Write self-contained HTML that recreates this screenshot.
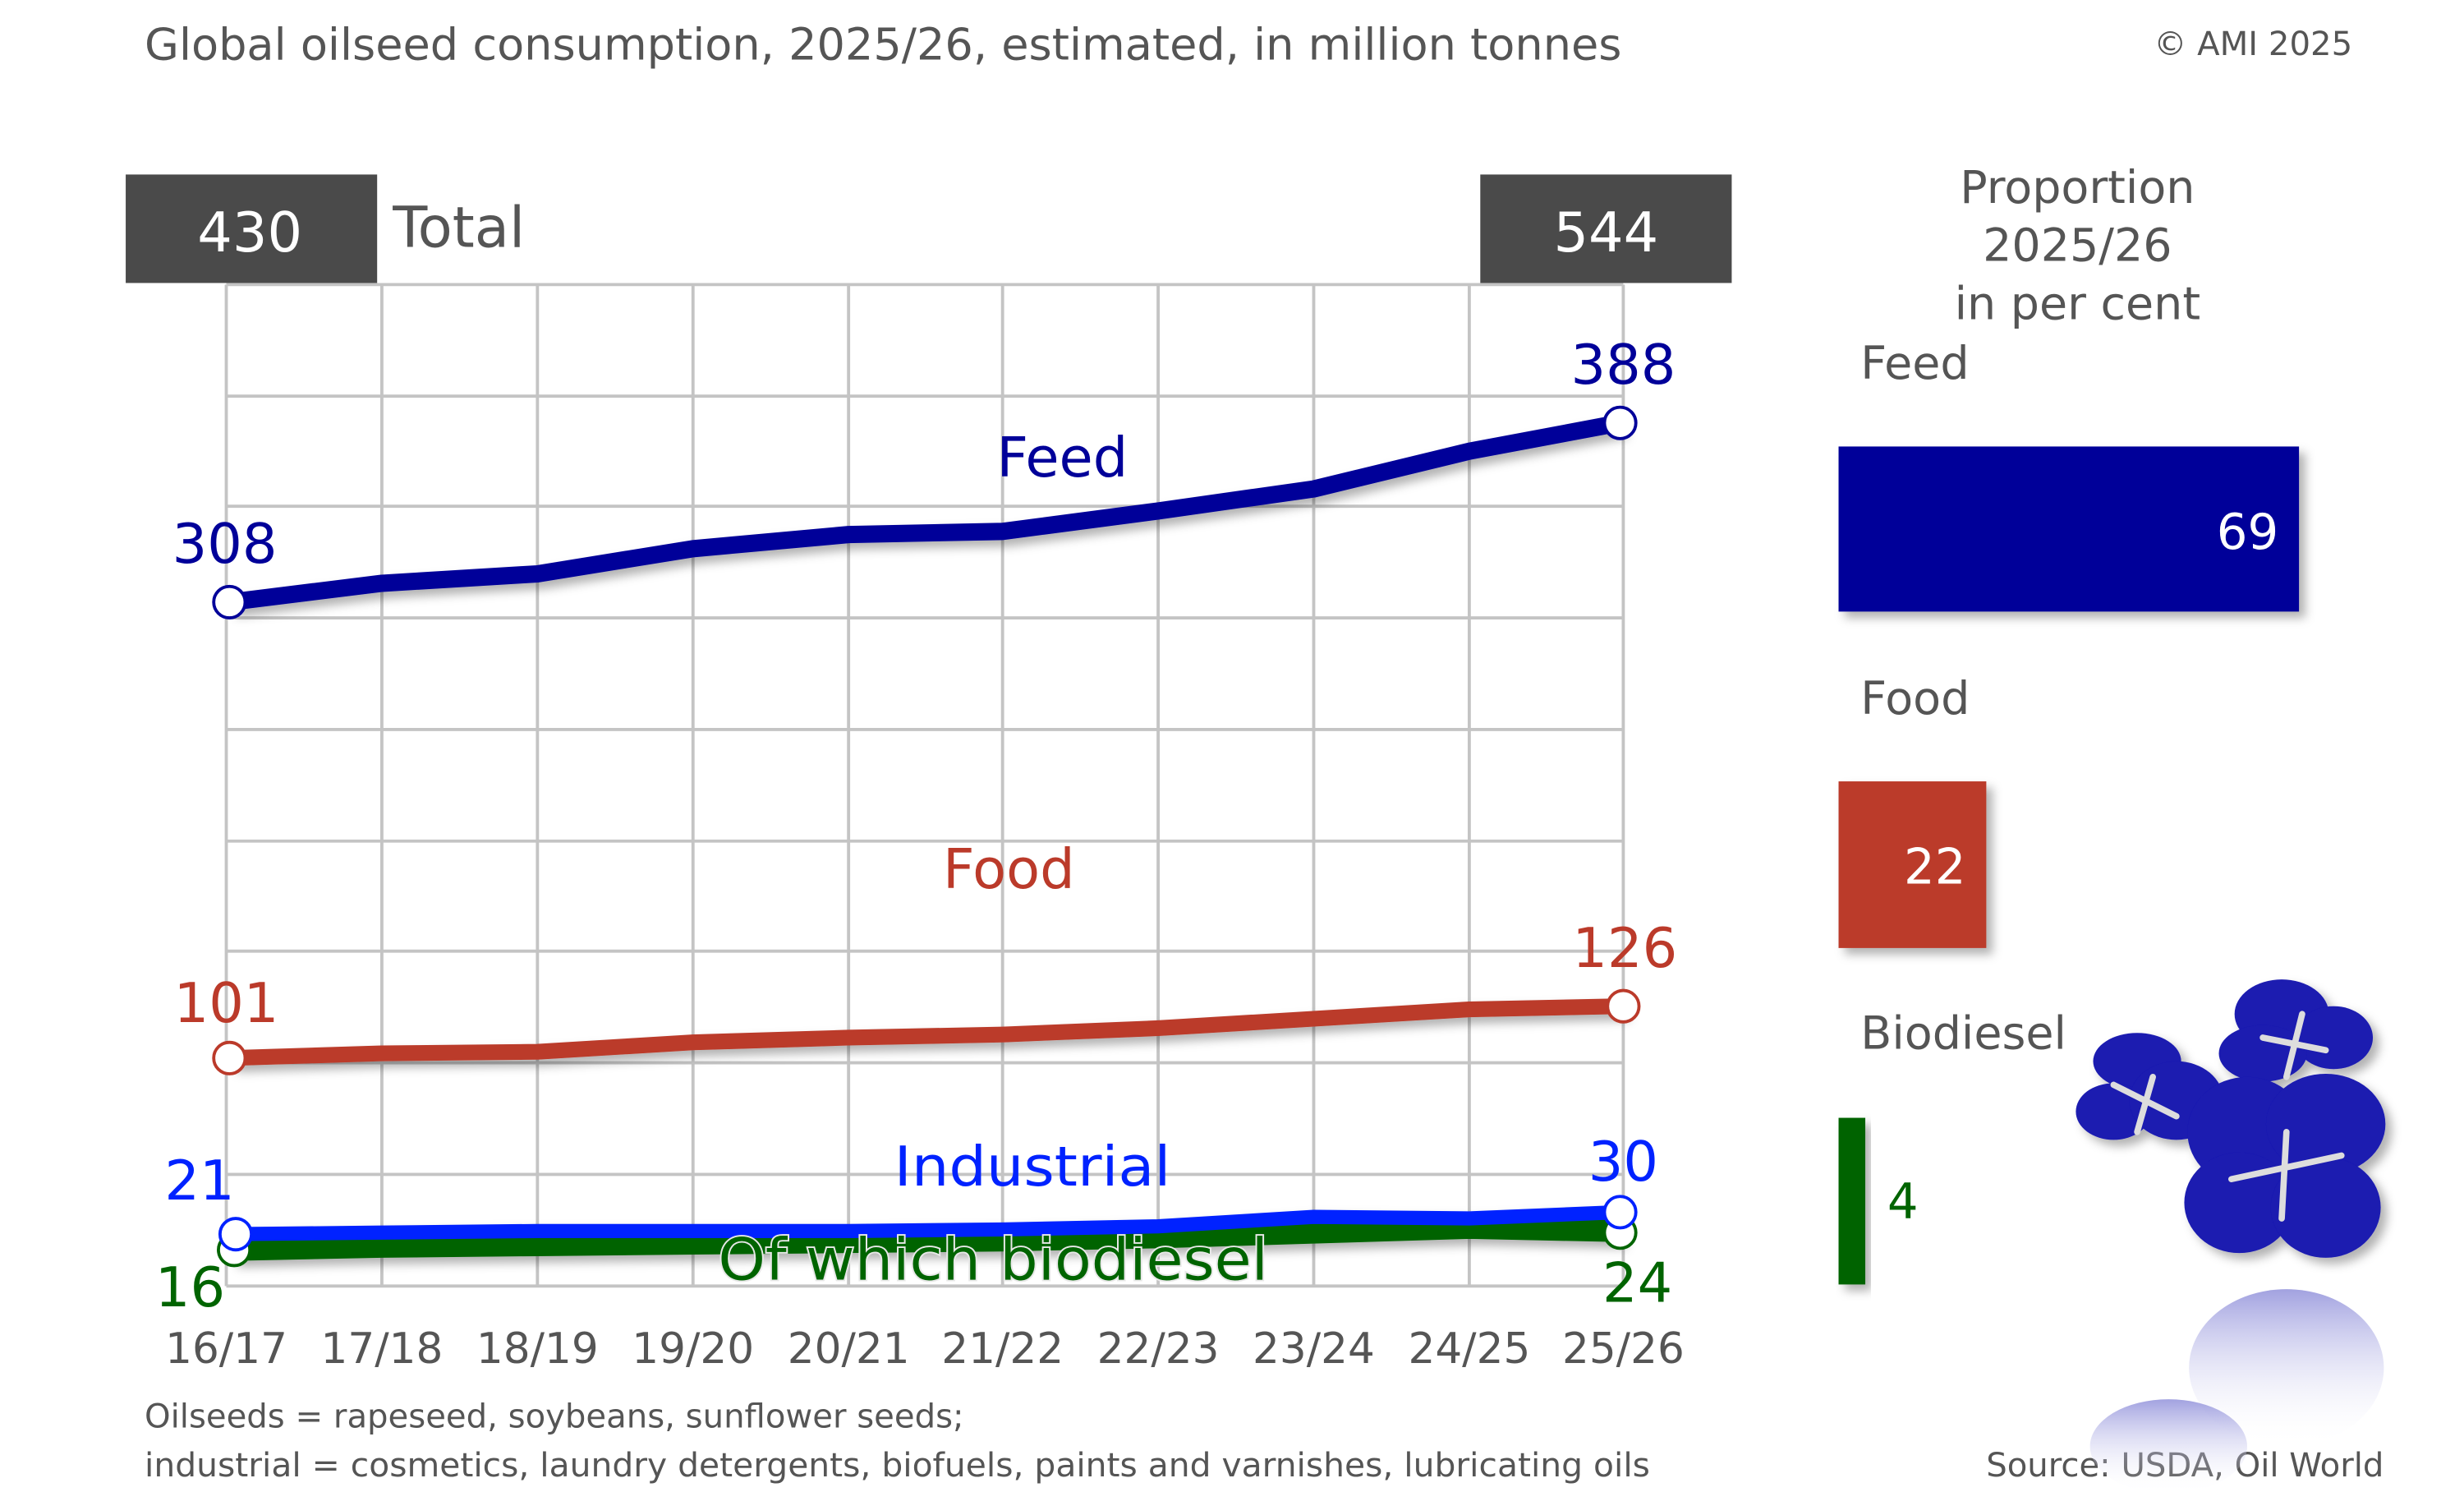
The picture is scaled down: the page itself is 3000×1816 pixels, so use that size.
<!DOCTYPE html>
<html><head><meta charset="utf-8"><style>
html,body{margin:0;padding:0;background:#fff;}
svg{display:block;}
text{font-family:"DejaVu Sans","Liberation Sans",sans-serif;}
</style></head><body>
<svg width="3000" height="1816" viewBox="0 0 1568 949" preserveAspectRatio="none" xmlns="http://www.w3.org/2000/svg">
<defs>
<filter id="sh" x="-10%" y="-10%" width="130%" height="130%"><feDropShadow dx="4" dy="4" stdDeviation="3" flood-color="#000" flood-opacity="0.3"/></filter>
<linearGradient id="fade" x1="0" y1="0" x2="0" y2="1"><stop offset="0" stop-color="#8a8ad8" stop-opacity="0.8"/><stop offset="1" stop-color="#fff" stop-opacity="0"/></linearGradient>
</defs>
<text x="92" y="38" font-size="28" fill="#555" textLength="940" lengthAdjust="spacingAndGlyphs">Global oilseed consumption, 2025/26, estimated, in million tonnes</text>
<text x="1497" y="35" font-size="21" fill="#555" text-anchor="end">© AMI 2025</text>
<g stroke="#c4c4c4" stroke-width="2" fill="none">
<line x1="144" y1="181" x2="144" y2="818"/><line x1="243" y1="181" x2="243" y2="818"/><line x1="342" y1="181" x2="342" y2="818"/><line x1="441" y1="181" x2="441" y2="818"/><line x1="540" y1="181" x2="540" y2="818"/><line x1="638" y1="181" x2="638" y2="818"/><line x1="737" y1="181" x2="737" y2="818"/><line x1="836" y1="181" x2="836" y2="818"/><line x1="935" y1="181" x2="935" y2="818"/><line x1="1033" y1="181" x2="1033" y2="818"/>
<line x1="144" y1="181" x2="1033" y2="181"/><line x1="144" y1="252" x2="1033" y2="252"/><line x1="144" y1="322" x2="1033" y2="322"/><line x1="144" y1="393" x2="1033" y2="393"/><line x1="144" y1="464" x2="1033" y2="464"/><line x1="144" y1="535" x2="1033" y2="535"/><line x1="144" y1="605" x2="1033" y2="605"/><line x1="144" y1="676" x2="1033" y2="676"/><line x1="144" y1="747" x2="1033" y2="747"/><line x1="144" y1="818" x2="1033" y2="818"/>
</g>
<rect x="80" y="111" width="160" height="69" fill="#4a4a4a"/>
<rect x="942" y="111" width="160" height="69" fill="#4a4a4a"/>
<text x="159" y="160" font-size="35" fill="#fff" text-anchor="middle">430</text>
<text x="1022" y="160" font-size="35" fill="#fff" text-anchor="middle">544</text>
<text x="250" y="157" font-size="36" fill="#555">Total</text>
<g fill="none" stroke-linejoin="round" filter="url(#sh)">
<polyline stroke="#006400" stroke-width="14" points="147,795 243,793 342,792 441,791 540,790 638,789 737,787 836,784 935,781 1031,783"/>
<polyline stroke="#0022ff" stroke-width="9" points="149,785 243,784 342,783 441,783 540,783 638,782 737,780 836,774 935,775 1031,771"/>
<polyline stroke="#bb3a2a" stroke-width="10" points="146,673 243,670 342,669 441,663 540,660 638,658 737,654 836,648 935,642 1033,640"/>
<polyline stroke="#000099" stroke-width="11" points="146,383 243,371 342,365 441,349 540,340 638,338 737,325 836,311 935,287 1031,269"/>
</g>
<g fill="#fff" stroke-width="2">
<circle cx="149" cy="795" r="10" stroke="#006400"/><circle cx="1031" cy="784" r="10" stroke="#006400"/>
<circle cx="150" cy="785" r="10" stroke="#0022ff"/><circle cx="1031" cy="771" r="10" stroke="#0022ff"/>
<circle cx="146" cy="673" r="10" stroke="#bb3a2a"/><circle cx="1033" cy="640" r="10" stroke="#bb3a2a"/>
<circle cx="146" cy="383" r="10" stroke="#000099"/><circle cx="1031" cy="269" r="10" stroke="#000099"/>
</g>
<g font-size="35" text-anchor="middle">
<text x="676" y="303" fill="#000099">Feed</text>
<text x="143" y="358" fill="#000099">308</text>
<text x="1033" y="244" fill="#000099">388</text>
<text x="642" y="565" fill="#bb3a2a">Food</text>
<text x="144" y="650" fill="#bb3a2a">101</text>
<text x="1034" y="615" fill="#bb3a2a">126</text>
<text x="657" y="754" fill="#0022ff" textLength="176" lengthAdjust="spacingAndGlyphs">Industrial</text>
<text x="127" y="763" fill="#0022ff">21</text>
<text x="1033" y="751" fill="#0022ff">30</text>
<text x="632" y="814" font-size="37" fill="#006400" stroke="#e8e8e8" stroke-width="2" paint-order="stroke" textLength="350" lengthAdjust="spacingAndGlyphs">Of which biodiesel</text>
<text x="121" y="831" fill="#006400">16</text>
<text x="1042" y="828" fill="#006400">24</text>
</g>
<g font-size="27" fill="#555" text-anchor="middle">
<text x="144" y="867">16/17</text><text x="243" y="867">17/18</text><text x="342" y="867">18/19</text><text x="441" y="867">19/20</text><text x="540" y="867">20/21</text><text x="638" y="867">21/22</text><text x="737" y="867">22/23</text><text x="836" y="867">23/24</text><text x="935" y="867">24/25</text><text x="1033" y="867">25/26</text>
</g>
<text x="92" y="908" font-size="21" fill="#555">Oilseeds = rapeseed, soybeans, sunflower seeds;</text>
<text x="92" y="939" font-size="21" fill="#555" textLength="958" lengthAdjust="spacingAndGlyphs">industrial = cosmetics, laundry detergents, biofuels, paints and varnishes, lubricating oils</text>
<text x="1517" y="939" font-size="21" fill="#555" text-anchor="end">Source: USDA, Oil World</text>
<g font-size="29" fill="#555" text-anchor="middle">
<text x="1322" y="129">Proportion</text><text x="1322" y="166">2025/26</text><text x="1322" y="203">in per cent</text>
</g>
<g font-size="29" fill="#555">
<text x="1184" y="241">Feed</text><text x="1184" y="454">Food</text><text x="1184" y="667">Biodiesel</text>
</g>
<rect x="1170" y="284" width="293" height="105" fill="#000099" filter="url(#sh)"/>
<rect x="1170" y="497" width="94" height="106" fill="#bb3a2a" filter="url(#sh)"/>
<rect x="1170" y="711" width="17" height="106" fill="#006400" filter="url(#sh)"/>
<text x="1450" y="349" font-size="31" fill="#fff" text-anchor="end">69</text>
<text x="1251" y="562" font-size="31" fill="#fff" text-anchor="end">22</text>
<text x="1201" y="775" font-size="31" fill="#006400">4</text>
<g fill="#1a1ab0" filter="url(#sh)">
<ellipse cx="1360" cy="675" rx="28" ry="18"/><ellipse cx="1345" cy="707" rx="24" ry="18"/><ellipse cx="1385" cy="700" rx="30" ry="25"/>
<ellipse cx="1452" cy="645" rx="30" ry="22"/><ellipse cx="1485" cy="660" rx="25" ry="20"/><ellipse cx="1440" cy="670" rx="28" ry="18"/>
<ellipse cx="1430" cy="720" rx="38" ry="35"/><ellipse cx="1480" cy="715" rx="38" ry="32"/><ellipse cx="1425" cy="765" rx="35" ry="32"/><ellipse cx="1480" cy="768" rx="35" ry="32"/>
</g>
<g stroke="#ddd" stroke-width="4" stroke-linecap="round" fill="none">
<line x1="1345" y1="690" x2="1385" y2="710"/><line x1="1370" y1="685" x2="1360" y2="720"/>
<line x1="1440" y1="660" x2="1480" y2="668"/><line x1="1465" y1="645" x2="1455" y2="685"/>
<line x1="1420" y1="750" x2="1490" y2="735"/><line x1="1455" y1="720" x2="1452" y2="775"/>
</g>
<g fill="url(#fade)">
<ellipse cx="1455" cy="870" rx="62" ry="50"/><ellipse cx="1380" cy="920" rx="50" ry="30"/>
</g>
</svg>
</body></html>
